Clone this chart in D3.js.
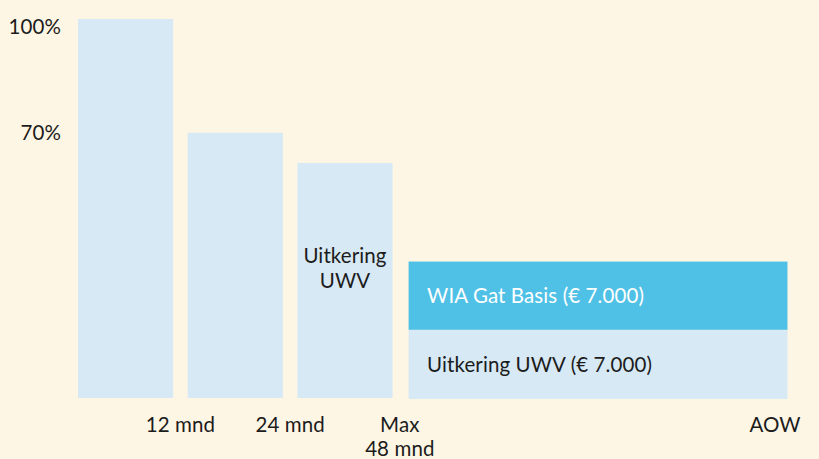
<!DOCTYPE html>
<html><head><meta charset="utf-8">
<script src="https://cdn.jsdelivr.net/npm/d3@7"></script>
<style>
html,body{margin:0;padding:0;background:#fef6e4;}
svg{display:block;font-family:Lato,"Open Sans",sans-serif;}
</style></head>
<body>
<script>
// Data
const categories = ["0-12 mnd", "12-24 mnd", "24-48 mnd", "tot AOW"];
const spans = [1, 1, 1, 3.6];               // relative duration weight of each period
const uwvValues = [100, 70, 62, 18];        // % of salary, base (light)
const wiaValues = [0, 0, 0, 18];            // WIA Gat Basis supplement (dark)
const yTickValues = [100, 70];
const yTickLabels = ["100%", "70%"];
const xLabels = [["12 mnd"], ["24 mnd"], ["Max", "48 mnd"], ["AOW"]];
const segLabels = {uwv: "Uitkering UWV (€ 7.000)", wia: "WIA Gat Basis (€ 7.000)"};
const bar3Label = ["Uitkering", "UWV"];

const W = 819, H = 459;
const svg = d3.select("body").append("svg").attr("width", W).attr("height", H);
svg.append("rect").attr("width", W).attr("height", H).attr("fill", "#fef6e4");

const starts = [];
let acc = 0;
spans.forEach(s => { starts.push(acc); acc += s; });
const x = d3.scaleLinear().domain([0, acc]).range([78, 802]);
const gap = 14.5;
const y = d3.scaleLinear().domain([0, 100]).range([398, 19]);

const light = "#d7e9f5", dark = "#50c1e6", txt = "#1c1c1c";

const data = categories.map((c, i) => ({c, i, x0: starts[i], x1: starts[i] + spans[i], uwv: uwvValues[i], wia: wiaValues[i]}));

// light (UWV) bars
svg.selectAll("rect.uwv").data(data).join("rect")
  .attr("class", "uwv")
  .attr("x", d => x(d.x0) + (d.i === 3 ? 1.5 : 0))
  .attr("width", d => x(d.x1) - x(d.x0) - gap - (d.i === 3 ? 1.5 : 0))
  .attr("y", d => y(d.uwv))
  .attr("height", d => y(0) - y(d.uwv) + (d.i === 3 ? 1 : 0))
  .attr("fill", light);

// dark (WIA) stacked
svg.selectAll("rect.wia").data(data.filter(d => d.wia > 0)).join("rect")
  .attr("class", "wia")
  .attr("x", d => x(d.x0) + 1.5)
  .attr("width", d => x(d.x1) - x(d.x0) - gap - 1.5)
  .attr("y", d => y(d.uwv + d.wia))
  .attr("height", d => y(d.uwv) - y(d.uwv + d.wia))
  .attr("fill", dark);

const fs = 20.5;
const txtStyle = sel => sel.attr("font-size", fs).attr("letter-spacing", "0.1px");
// y labels
svg.selectAll("text.yl").data(yTickValues).join("text")
  .attr("class", "yl")
  .attr("x", 61)
  .attr("y", (v) => Math.max(y(v), 27))
  .attr("dy", "0.35em")
  .attr("text-anchor", "end")
  .call(txtStyle)
  .attr("fill", txt)
  .text((v, i) => yTickLabels[i]);

// x labels at period ends
const xpos = d => d.i === 3 ? x(d.x1) - 27 : x(d.x1) - gap / 2;
const xl = svg.selectAll("text.xl").data(data).join("text")
  .attr("class", "xl")
  .attr("text-anchor", "middle")
  .call(txtStyle)
  .attr("fill", txt)
  .attr("x", xpos)
  .attr("y", 432);
xl.selectAll("tspan").data(d => xLabels[d.i].map(t => ({t, xx: xpos(d)}))).join("tspan")
  .attr("x", t => t.xx)
  .attr("dy", (t, j) => j === 0 ? 0 : 24)
  .text(t => t.t);

// label inside bar 3
const b3 = data[2];
const b3x = (x(b3.x0) + x(b3.x1) - gap) / 2;
svg.append("text").attr("text-anchor", "middle").call(txtStyle).attr("fill", txt)
  .attr("x", b3x).attr("y", 263)
  .selectAll("tspan").data(bar3Label).join("tspan")
  .attr("x", b3x).attr("dy", (t, j) => j === 0 ? 0 : 24.5).text(t => t);

// segment labels on bar 4
const b4 = data[3];
svg.append("text").call(txtStyle).attr("fill", "#ffffff")
  .attr("x", x(b4.x0) + 20).attr("y", (y(b4.uwv + b4.wia) + y(b4.uwv)) / 2).attr("dy", "0.35em")
  .text(segLabels.wia);
svg.append("text").call(txtStyle).attr("fill", txt)
  .attr("x", x(b4.x0) + 20).attr("y", (y(b4.uwv) + y(0)) / 2 + 1).attr("dy", "0.35em")
  .text(segLabels.uwv);
</script>
</body></html>
